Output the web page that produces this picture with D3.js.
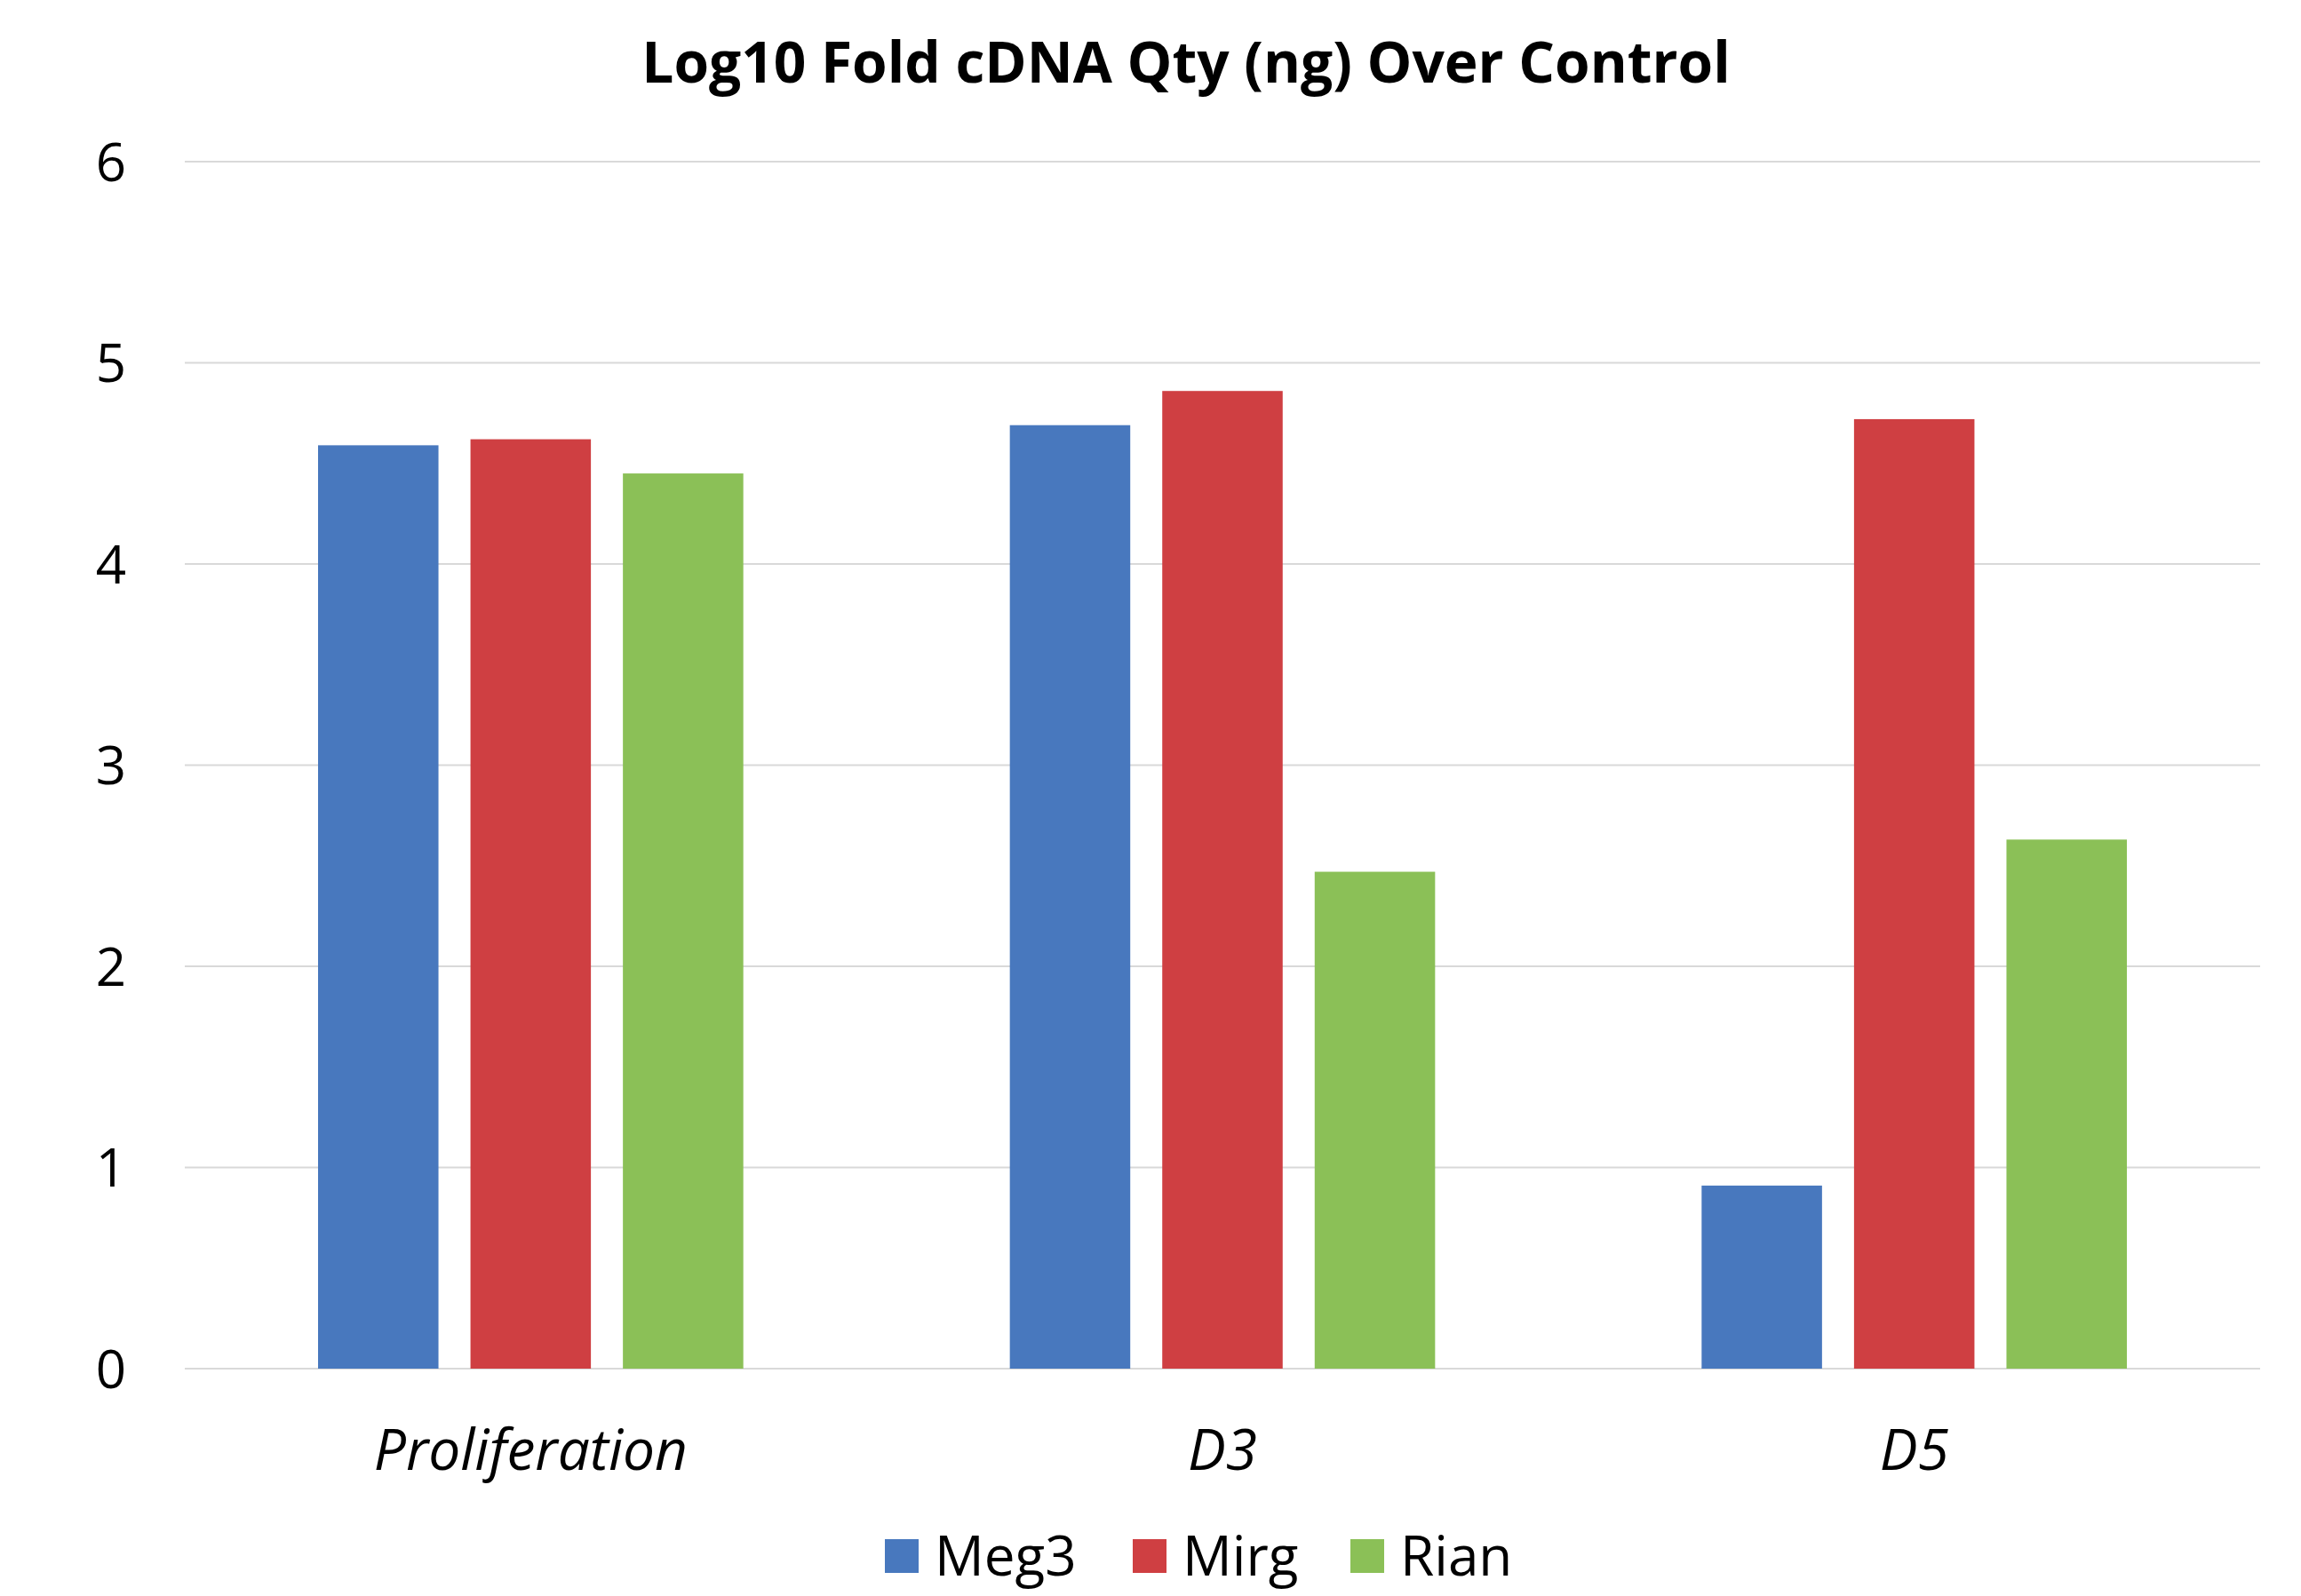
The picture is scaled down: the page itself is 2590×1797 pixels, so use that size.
<!DOCTYPE html>
<html>
<head>
<meta charset="utf-8">
<script src="https://cdn.jsdelivr.net/npm/d3@7"></script>
<style>
  body { margin: 0; background: #fff; }
  text { font-family: "Open Sans", "DejaVu Sans", sans-serif; fill: #000; }
</style>
</head>
<body>
<div id="chart"></div>
<script>
const categories = ["Proliferation", "D3", "D5"];
const seriesNames = ["Meg3", "Mirg", "Rian"];
const meg3 = [4.59, 4.69, 0.91];
const mirg = [4.62, 4.86, 4.72];
const rian = [4.45, 2.47, 2.63];
const yTicks = [0, 1, 2, 3, 4, 5, 6];
const colors = ["#4878be", "#cf3f42", "#8bc057"];

const width = 2590;
const height = 1797;
const margin = { top: 182, right: 46, bottom: 256, left: 208 };

const svg = d3.select("#chart")
  .append("svg")
  .attr("width", width)
  .attr("height", height);

const x0 = d3.scaleBand()
  .domain(categories)
  .range([margin.left, width - margin.right])
  .padding(0);

const x1 = d3.scaleBand()
  .domain(seriesNames)
  .range([150, x0.bandwidth() - 150])
  .paddingInner(0.21)
  .paddingOuter(0);

const y = d3.scaleLinear()
  .domain([0, 6])
  .range([height - margin.bottom, margin.top]);

const color = d3.scaleOrdinal().domain(seriesNames).range(colors);

// gridlines
svg.append("g")
  .selectAll("line")
  .data(yTicks)
  .join("line")
  .attr("x1", margin.left)
  .attr("x2", width - margin.right)
  .attr("y1", d => y(d))
  .attr("y2", d => y(d))
  .attr("stroke", "#d9d9d9")
  .attr("stroke-width", 2);

// y labels
svg.append("g")
  .selectAll("text")
  .data(yTicks)
  .join("text")
  .attr("x", 142)
  .attr("y", d => y(d))
  .attr("dy", "0.36em")
  .attr("text-anchor", "end")
  .attr("font-size", 60)
  .text(d => d);

// bars
const rows = categories.map((c, i) => ({
  category: c,
  values: [meg3[i], mirg[i], rian[i]].map((v, j) => ({ key: seriesNames[j], value: v }))
}));

svg.append("g")
  .selectAll("g")
  .data(rows)
  .join("g")
  .attr("transform", d => `translate(${x0(d.category)},0)`)
  .selectAll("rect")
  .data(d => d.values)
  .join("rect")
  .attr("x", d => x1(d.key))
  .attr("y", d => y(d.value))
  .attr("width", x1.bandwidth())
  .attr("height", d => y(0) - y(d.value))
  .attr("fill", d => color(d.key));

// category labels
svg.append("g")
  .selectAll("text")
  .data(categories)
  .join("text")
  .attr("x", d => x0(d) + x0.bandwidth() / 2)
  .attr("y", 1632)
  .attr("dy", "0.36em")
  .attr("text-anchor", "middle")
  .attr("font-style", "italic")
  .attr("font-size", 64)
  .text(d => d);

// title
svg.append("text")
  .attr("x", 1335)
  .attr("y", 70)
  .attr("dy", "0.36em")
  .attr("text-anchor", "middle")
  .attr("font-weight", "bold")
  .attr("font-size", 64)
  .text("Log10 Fold cDNA Qty (ng) Over Control");

// legend
const legendX = [996, 1275, 1520];
const legend = svg.append("g")
  .selectAll("g")
  .data(seriesNames)
  .join("g")
  .attr("transform", (d, i) => `translate(${legendX[i]}, 1752)`);

legend.append("rect")
  .attr("x", 0)
  .attr("y", -19)
  .attr("width", 38)
  .attr("height", 38)
  .attr("fill", d => color(d));

legend.append("text")
  .attr("x", 56)
  .attr("y", 0)
  .attr("dy", "0.36em")
  .attr("font-size", 62)
  .text(d => d);
</script>
</body>
</html>
